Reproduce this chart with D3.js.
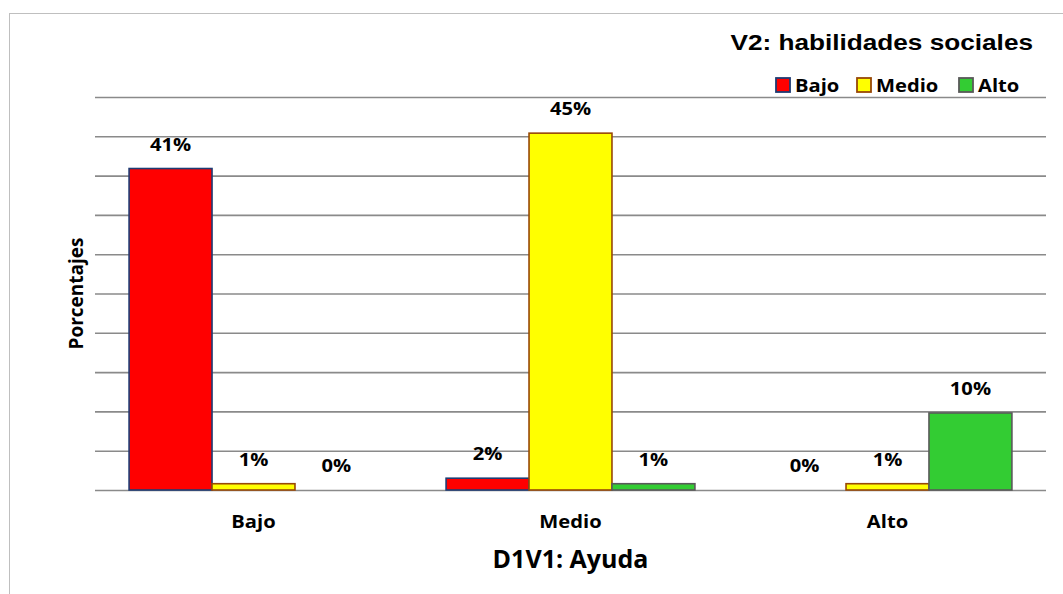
<!DOCTYPE html>
<html>
<head>
<meta charset="utf-8">
<script src="https://cdn.jsdelivr.net/npm/d3@7"></script>
<style>
  html, body { margin: 0; padding: 0; background: #fff; }
  svg { display: block; }
</style>
</head>
<body>
<svg id="chart" width="1063" height="594"></svg>
<script>
// ---- Data ----
const categories = ["Bajo", "Medio", "Alto"];           // D1V1: Ayuda
const seriesNames = ["Bajo", "Medio", "Alto"];          // V2: habilidades sociales
const bajoValues  = [40.9, 1.5, 0];
const medioValues = [0.8, 45.4, 0.8];
const altoValues  = [0, 0.8, 9.8];
const yTicks = [0, 5, 10, 15, 20, 25, 30, 35, 40, 45, 50];

const seriesValues = [bajoValues, medioValues, altoValues];
const fills   = ["#FF0000", "#FFFF00", "#33CC33"];
const strokes = ["#1F3B73", "#984807", "#595959"];

const svg = d3.select("#chart");

// outer frame
svg.append("rect")
  .attr("x", 9.5).attr("y", 13.5)
  .attr("width", 1070).attr("height", 600)
  .attr("fill", "none").attr("stroke", "#bfbfbf").attr("stroke-width", 1);

const plot = { left: 95, right: 1046, top: 97, bottom: 490 };

const x0 = d3.scaleBand().domain(categories)
  .range([plot.left, plot.right])
  .paddingInner(0.215).paddingOuter(0.1075);
const x1 = d3.scaleBand().domain(seriesNames)
  .range([0, x0.bandwidth()]).padding(0);
const y = d3.scaleLinear().domain([0, 50]).range([plot.bottom, plot.top]);

// gridlines via axis
const yAxis = d3.axisLeft(y).tickValues(yTicks)
  .tickSize(-(plot.right - plot.left)).tickFormat("");
const gy = svg.append("g")
  .attr("transform", `translate(${plot.left},0)`)
  .call(yAxis);
gy.select(".domain").remove();
gy.selectAll(".tick line").attr("stroke", "#8a8a8a").attr("stroke-width", 1.6);

// bars
const rows = [];
categories.forEach((c, ci) => {
  seriesNames.forEach((s, si) => {
    rows.push({ cat: c, ser: s, si, v: seriesValues[si][ci] });
  });
});

svg.append("g").selectAll("rect")
  .data(rows.filter(d => d.v > 0))
  .join("rect")
  .attr("x", d => x0(d.cat) + x1(d.ser))
  .attr("y", d => y(d.v))
  .attr("width", x1.bandwidth())
  .attr("height", d => y(0) - y(d.v))
  .attr("fill", d => fills[d.si])
  .attr("stroke", d => strokes[d.si])
  .attr("stroke-width", 1.6);

const SX = 1.12;
// data labels
svg.append("g").selectAll("g")
  .data(rows)
  .join("g")
  .attr("transform", d => `translate(${x0(d.cat) + x1(d.ser) + x1.bandwidth() / 2},${y(d.v) - 18}) scale(${SX},1)`)
  .append("text")
  .attr("text-anchor", "middle")
  .attr("font-family", "'Open Sans', sans-serif")
  .attr("font-weight", 700)
  .attr("font-size", 18)
  .attr("fill", "#000")
  .text(d => Math.round(d.v) + "%");

// category labels
const xAxis = d3.axisBottom(x0).tickSize(0).tickPadding(0);
const gx = svg.append("g").attr("transform", `translate(0,${plot.bottom})`).call(xAxis);
gx.select(".domain").remove();
gx.selectAll(".tick text")
  .attr("y", 38).attr("dy", null)
  .attr("transform", `scale(${SX},1)`)
  .attr("font-family", "'Open Sans', sans-serif")
  .attr("font-weight", 700)
  .attr("font-size", 18)
  .attr("fill", "#000");
gx.selectAll(".tick").each(function() {
  const t = d3.select(this).attr("transform");
  d3.select(this).attr("transform", t);
});

// x axis title
svg.append("text")
  .attr("x", (plot.left + plot.right) / 2 - 0)
  .attr("y", 568)
  .attr("text-anchor", "middle")
  .attr("font-family", "'Open Sans', sans-serif")
  .attr("font-weight", 700)
  .attr("font-size", 25)
  .attr("fill", "#000")
  .text("D1V1: Ayuda");

// y axis title
svg.append("text")
  .attr("transform", `translate(83,${(plot.top + plot.bottom) / 2}) rotate(-90)`)
  .attr("text-anchor", "middle")
  .attr("font-family", "'Open Sans', sans-serif")
  .attr("font-weight", 700)
  .attr("font-size", 19)
  .attr("fill", "#000")
  .text("Porcentajes");

// chart title
svg.append("g")
  .attr("transform", "translate(1033,50) scale(1.19,1)")
  .append("text")
  .attr("text-anchor", "end")
  .attr("font-family", "'Liberation Sans', Arial, sans-serif")
  .attr("font-weight", 700)
  .attr("font-size", 22)
  .attr("fill", "#000")
  .text("V2: habilidades sociales");

// legend
const legendX = [776, 857, 959];
const lg = svg.append("g");
seriesNames.forEach((s, i) => {
  lg.append("rect")
    .attr("x", legendX[i]).attr("y", 78)
    .attr("width", 14).attr("height", 14)
    .attr("fill", fills[i]).attr("stroke", strokes[i]).attr("stroke-width", 1.8);
  lg.append("g")
    .attr("transform", `translate(${legendX[i] + 19},91.5) scale(${SX},1)`)
    .append("text")
    .attr("font-family", "'Open Sans', sans-serif")
    .attr("font-weight", 700)
    .attr("font-size", 18)
    .attr("fill", "#000")
    .text(s);
});
</script>
</body>
</html>
